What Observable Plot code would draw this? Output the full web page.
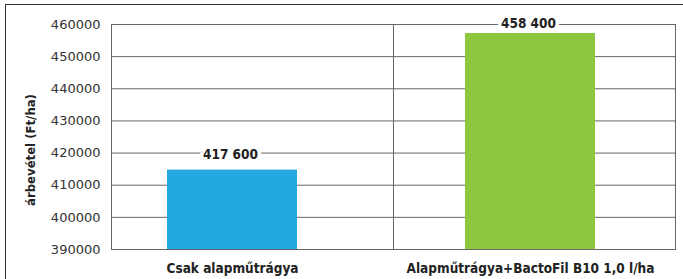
<!DOCTYPE html>
<html><head><meta charset="utf-8">
<script src="https://cdn.jsdelivr.net/npm/d3@7"></script>
<script src="https://cdn.jsdelivr.net/npm/@observablehq/plot@0.6"></script>
<style>
body{margin:0;background:#fff;}
#wrap{position:relative;width:683px;height:279px;overflow:hidden;}
#border{position:absolute;left:5px;top:4px;width:720px;height:320px;border-top:1.5px solid #333;border-left:1.5px solid #333;}
#chart{position:absolute;left:0;top:0;}
</style></head><body>
<div id="wrap"><div id="border"></div><div id="chart"></div></div>
<script>
const categories = ["Csak alapműtrágya", "Alapműtrágya+BactoFil B10 1,0 l/ha"];
const barValues = [414700, 457200];
const labelValues = [417600, 458400];
const labelTexts = ["417 600", "458 400"];
const yTicks = [390000, 400000, 410000, 420000, 430000, 440000, 450000, 460000];
const yTitle = "árbevétel (Ft/ha)";

const data = categories.map((c, i) => ({category: c, value: barValues[i], labelValue: labelValues[i], label: labelTexts[i]}));

const chart = Plot.plot({
  width: 683, height: 279,
  marginTop: 24, marginBottom: 30, marginLeft: 111, marginRight: 8,
  style: {fontFamily: "DejaVu Sans", fontSize: "13px", color: "#333", background: "transparent"},
  x: {domain: categories, range: [83, 679], paddingInner: 0.565, paddingOuter: 0.2825, label: null},
  y: {domain: [yTicks[0], yTicks[yTicks.length - 1]], label: null},
  color: {domain: categories, range: ["#23a8e0", "#8dc63f"]},
  marks: [
    Plot.gridY(yTicks, {stroke: "#666", strokeOpacity: 1}),
    Plot.barY(data, {x: "category", y: "value", fill: "category", clip: true}),
    Plot.frame({stroke: "#666"}),
    Plot.ruleX([categories[1]], {dx: -137, stroke: "#666"}),
    Plot.text(data, {x: "category", y: "labelValue", text: "label", dy: -6, dx: -2, fontWeight: "bold", fontSize: 13.5, fontFamily: "DejaVu Sans Condensed", fill: "#222", stroke: "white", strokeWidth: 7, paintOrder: "stroke"}),
    Plot.axisY(yTicks, {tickSize: 0, tickPadding: 11, tickFormat: d3.format("d"), fontSize: 13, fill: "#333", label: null}),
    Plot.axisX({tickSize: 0, tickPadding: 14, fontWeight: "bold", fontSize: 13.5, fontFamily: "DejaVu Sans Condensed", fill: "#222", label: null}),
    Plot.text([yTitle], {frameAnchor: "left", textAnchor: "middle", rotate: -90, dx: -81, dy: 13, fontWeight: "bold", fontSize: 13, fontFamily: "DejaVu Sans Condensed", fill: "#222"})
  ]
});
document.getElementById("chart").append(chart);
</script>
</body></html>
